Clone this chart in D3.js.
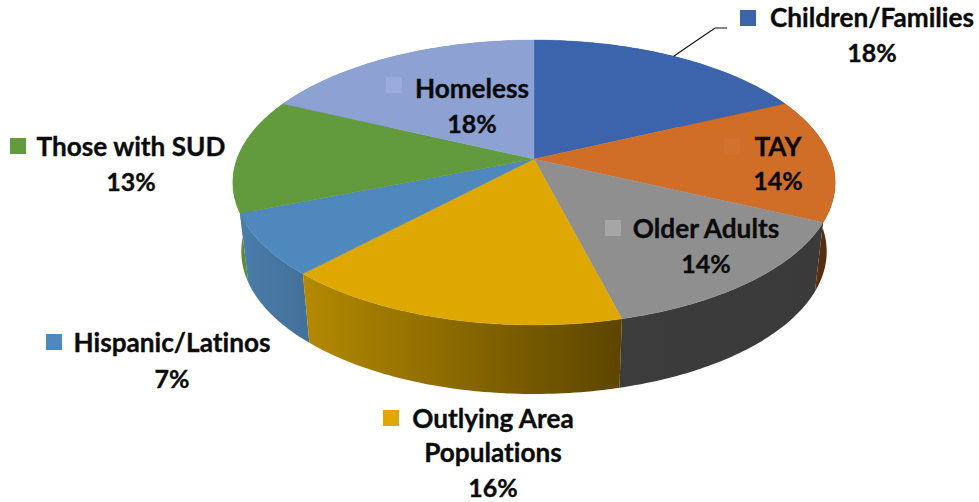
<!DOCTYPE html>
<html>
<head>
<meta charset="utf-8">
<script src="https://cdn.jsdelivr.net/npm/d3@7/dist/d3.min.js"></script>
<style>
  html, body { margin: 0; padding: 0; background: #fff; }
  svg { display: block; }
  text { font-family: Lato, "Open Sans", sans-serif; font-weight: 700; fill: #0b0b0b; stroke: #0b0b0b; stroke-width: 0.35; font-variant-ligatures: none; }
</style>
</head>
<body>
<svg id="chart" width="979" height="502"></svg>
<script>
// Population shares, clockwise from twelve o'clock.
const categories = ["Children/Families", "TAY", "Older Adults", "Outlying Area Populations", "Hispanic/Latinos", "Those with SUD", "Homeless"];
const shares = [18, 14, 14, 16, 7, 13, 18];
const topColors = ["#3B64AD", "#D06D27", "#8F8F8F", "#DFA800", "#4E88BC", "#629B3E", "#8EA1D3"];
const sideStart = ["#2A4880", "#5E3212", "#3C3C3C", "#B48A00", "#4A7DAB", "#5C9038", "#6B7CA8"];
const sideEnd   = ["#2A4880", "#552C0E", "#3A3A3A", "#5C4500", "#43719A", "#4E7F2E", "#6B7CA8"];
const swatchColors = ["#3B64AD", "#D2722F", "#A6A6A6", "#DFA800", "#4E88BC", "#629B3E", "#9BABDB"];

// Label layout: swatch corner, text lines and the centre they are set around.
const labelLayout = [
  { swatch: [740, 10],  cx: 872, lines: [[categories[0], 27]], pct: 62 },
  { swatch: [724, 139], cx: 778, lines: [[categories[1], 156]], pct: 190 },
  { swatch: [605, 220], cx: 706, lines: [[categories[2], 238]], pct: 273 },
  { swatch: [383, 410], cx: 493, lines: [["Outlying Area", 428], ["Populations", 462]], pct: 497 },
  { swatch: [46, 334],  cx: 172, lines: [[categories[4], 352]], pct: 388 },
  { swatch: [10, 138],  cx: 131, lines: [[categories[5], 156]], pct: 191 },
  { swatch: [386, 77],  cx: 472, lines: [[categories[6], 98]], pct: 133 }
];

const svg = d3.select("#chart");
const NAME_FONT = 26.2, PCT_FONT = 25;
const cx = 534, cy = 159;             // disc centre
const radiusX = 297, radiusY = 138.6; // disc radii before foreshortening
const tilt = 0.165;                   // strength of the perspective
const depth = 69;                     // height of the extruded wall
const lowerScale = 0.972;             // the lower rim recedes a little

// Map a pie angle (0 at twelve o'clock, clockwise) to the tilted disc.
function project(a, r = 1) {
  const u = r * Math.sin(a), v = -r * Math.cos(a);
  const s = 1 / (1 - tilt * v);
  return [cx + radiusX * u * s, cy + radiusY * v * s];
}

const arcs = d3.pie().sort(null).value(d => d)(shares);
const line = d3.line();

function rimPoints(d) {
  const n = Math.max(8, Math.ceil((d.endAngle - d.startAngle) * 60));
  return d3.range(n + 1).map(i => project(d.startAngle + (d.endAngle - d.startAngle) * i / n));
}

// Walls: one horizontal gradient per slice across its own x-extent.
const defs = svg.append("defs");
arcs.forEach((d, i) => {
  const xs = rimPoints(d).map(p => p[0]);
  const g = defs.append("linearGradient")
    .attr("id", "wall" + i)
    .attr("gradientUnits", "userSpaceOnUse")
    .attr("x1", d3.min(xs)).attr("x2", d3.max(xs)).attr("y1", 0).attr("y2", 0);
  g.append("stop").attr("offset", 0).attr("stop-color", sideStart[i]);
  g.append("stop").attr("offset", 1).attr("stop-color", sideEnd[i]);
});

// The rear walls go first so the front ones overlap them.
const wallOrder = [0, 6, 1, 5, 2, 4, 3];
svg.append("g").selectAll("path")
  .data(wallOrder)
  .join("path")
  .attr("fill", i => `url(#wall${i})`)
  .attr("d", i => {
    const rim = rimPoints(arcs[i]);
    const lower = rim.slice().reverse()
      .map(p => [cx + (p[0] - cx) * lowerScale, p[1] + depth]);
    return line(rim.concat(lower)) + "Z";
  });

// Top faces of the slices.
svg.append("g").selectAll("path")
  .data(arcs)
  .join("path")
  .attr("fill", (d, i) => topColors[i])
  .attr("stroke", (d, i) => topColors[i])
  .attr("stroke-width", 0.4)
  .attr("d", d => line([[cx, cy]].concat(rimPoints(d))) + "Z");

// Leader from the first slice up to its label.
svg.append("path")
  .attr("d", line([project((arcs[0].startAngle + arcs[0].endAngle) / 2), [715, 28], [727, 28]]))
  .attr("fill", "none")
  .attr("stroke", "#111")
  .attr("stroke-width", 1.2);

// Labels: coloured square, category name and percentage.
const labels = svg.append("g").selectAll("g")
  .data(labelLayout)
  .join("g");

labels.append("rect")
  .attr("x", d => d.swatch[0])
  .attr("y", d => d.swatch[1])
  .attr("width", 16)
  .attr("height", 16)
  .attr("fill", (d, i) => swatchColors[i]);

labels.each(function (d, i) {
  const g = d3.select(this);
  d.lines.forEach(([t, y]) => {
    g.append("text").attr("x", d.cx).attr("y", y)
      .attr("text-anchor", "middle").attr("font-size", NAME_FONT).text(t);
  });
  g.append("text").attr("x", d.cx).attr("y", d.pct)
    .attr("text-anchor", "middle").attr("font-size", PCT_FONT).text(shares[i] + "%");
});
</script>
</body>
</html>
